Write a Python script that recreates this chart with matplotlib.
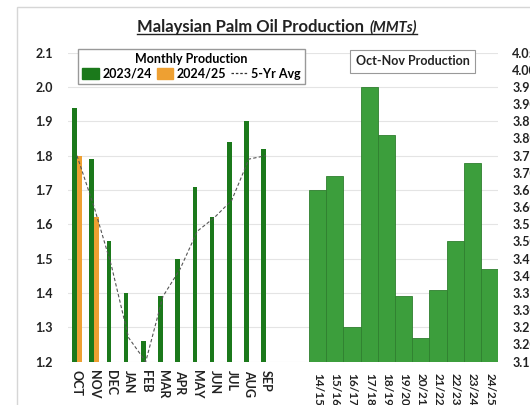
import numpy as np
import matplotlib
matplotlib.use("Agg")
import matplotlib.pyplot as plt
from matplotlib.patches import Patch, Rectangle
from matplotlib.lines import Line2D

plt.rcParams['font.family'] = ['Lato', 'DejaVu Sans']
plt.rcParams['font.weight'] = 'bold'

# monthly production, million tonnes
months = ['OCT', 'NOV', 'DEC', 'JAN', 'FEB', 'MAR', 'APR', 'MAY', 'JUN', 'JUL', 'AUG', 'SEP']
prod_2324 = [1.94, 1.79, 1.55, 1.40, 1.26, 1.39, 1.50, 1.71, 1.62, 1.84, 1.90, 1.82]
prod_2425 = [1.80, 1.62]
avg_5yr = [1.80, 1.65, 1.48, 1.27, 1.20, 1.39, 1.47, 1.58, 1.62, 1.67, 1.79, 1.80]

# Oct+Nov totals by season
seasons = ['14/15', '15/16', '16/17', '17/18', '18/19', '19/20', '20/21', '21/22', '22/23', '23/24', '24/25']
octnov = [3.65, 3.69, 3.25, 3.95, 3.81, 3.34, 3.22, 3.36, 3.50, 3.73, 3.42]

green = '#1b791b'
orange = '#eea032'
green2 = '#3c9e3c'

fig = plt.figure(figsize=(5.3, 4.05), dpi=100)
fig.patches.append(Rectangle((0.032, -0.05), 1.0, 1.033, transform=fig.transFigure,
                             fill=False, ec='#d6d6d6', lw=1.0))

ax = fig.add_axes([0.129, 0.107, 0.811, 0.763])
ax2 = ax.twinx()

xm = np.arange(len(months))
xs = np.arange(len(seasons)) + 14

w = 0.27
ax.bar(xm - 0.145, prod_2324, width=w, color=green, zorder=2)
ax.bar(xm[:len(prod_2425)] + 0.145, prod_2425, width=w, color=orange, zorder=2)
ax.plot(xm, avg_5yr, color='#555555', lw=0.8, ls=(0, (3, 2)), zorder=3)

ax2.bar(xs, octnov, width=1.0, color=green2, edgecolor='#2f7f2f', lw=0.6)

ax.set_xlim(-0.5, 24.5)
ax.set_ylim(1.2, 2.1)
ax2.set_ylim(3.15, 4.05)

ax.set_yticks(np.arange(1.2, 2.101, 0.1))
ax.set_yticklabels(['%.1f' % v for v in np.arange(1.2, 2.101, 0.1)])
ax2.set_yticks(np.arange(3.15, 4.051, 0.05))
ax2.set_yticklabels(['%.2f' % v for v in np.arange(3.15, 4.051, 0.05)])

ax.set_xticks(list(xm) + list(xs))
ax.set_xticklabels(months + seasons, rotation=270)
ax.tick_params(axis='both', length=0, labelsize=9, labelcolor='#222222')
for i, t in enumerate(ax.xaxis.get_major_ticks()):
    if i < 12:
        t.set_pad(6)
    else:
        t.set_pad(8)
        t.label1.set_fontsize(8.5)
ax.tick_params(axis='y', pad=11)
ax2.tick_params(axis='y', length=0, labelsize=9, labelcolor='#222222', pad=10)

ax.yaxis.grid(True, color='#e4e4e4', lw=0.8)
ax.set_axisbelow(True)
for a in (ax, ax2):
    for s in a.spines.values():
        s.set_visible(False)

handles = [Patch(color=green), Patch(color=orange),
           Line2D([], [], color='#333333', lw=0.9, ls=(0, (2, 1.5)))]
fig.legend(handles, ['2023/24', '2024/25', '5-Yr Avg'], ncol=3,
           loc='upper left', bbox_to_anchor=(0.147, 0.879), borderaxespad=0,
           title='Monthly Production', title_fontproperties={'weight': 'bold', 'size': 9},
           prop={'weight': 'bold', 'size': 9}, frameon=True, fancybox=False,
           edgecolor='#999999', framealpha=1, handlelength=1.3, handleheight=0.9,
           handletextpad=0.3, columnspacing=0.4, borderpad=0.35, labelspacing=0.2)

fig.text(0.779, 0.849, 'Oct-Nov Production', ha='center', va='center', fontsize=9,
         fontweight='bold', color='#222222',
         bbox=dict(boxstyle='square,pad=0.45', fc='white', ec='#999999', lw=0.8))

# title with underline
t1 = fig.text(0.258, 0.933, 'Malaysian Palm Oil Production', ha='left', va='center',
              fontsize=12, fontweight='bold', color='#222222')
t2 = ax.annotate('(MMTs)', xy=(1, 0), xycoords=t1, xytext=(4, 0.5), textcoords='offset points',
                 ha='left', va='bottom', fontsize=10.5, fontweight='bold', style='italic',
                 color='#222222', annotation_clip=False)
fig.canvas.draw()
r = fig.canvas.get_renderer()
b1 = t1.get_window_extent(r).transformed(fig.transFigure.inverted())
b2 = t2.get_window_extent(r).transformed(fig.transFigure.inverted())
fig.add_artist(Line2D([b1.x0, b2.x1], [b1.y0 + 0.004, b1.y0 + 0.004],
                      transform=fig.transFigure, color='#222222', lw=1.0))

fig.savefig('out.png', dpi=100)
